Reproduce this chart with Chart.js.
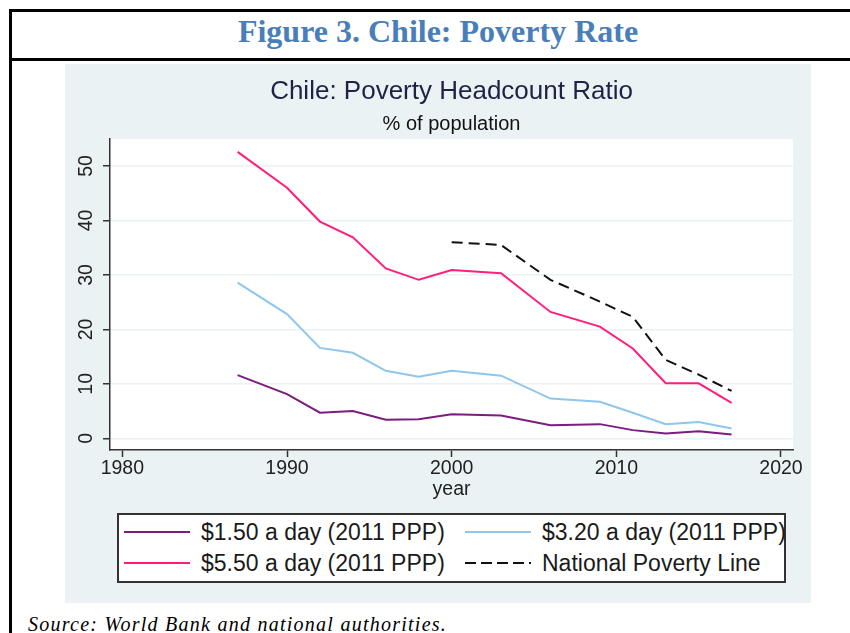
<!DOCTYPE html>
<html>
<head>
<meta charset="utf-8">
<script src="https://cdn.jsdelivr.net/npm/chart.js@4/dist/chart.umd.min.js"></script>
<style>
html,body{margin:0;padding:0;background:#fff;width:850px;height:633px;overflow:hidden;position:relative}
#frame{position:absolute;left:9px;top:9px;width:852px;height:640px;border-top:3px solid #000;border-left:3px solid #000}
#figbar{position:absolute;left:0;top:46px;width:852px;height:3px;background:#000}
#figtitle{position:absolute;left:0;top:1px;width:852px;text-align:center;font:bold 32px 'Liberation Serif','Times New Roman',serif;line-height:36px;color:#4a7ebb}
#wrap{position:absolute;left:65px;top:64px;width:746px;height:539px;background:#eaf2f3}
#legend{position:absolute;left:52px;top:449px;width:665px;height:66px;border:2px solid #333;background:#fff;overflow:visible}
.li{position:absolute;display:flex;align-items:center;height:30px;white-space:nowrap;font:23px 'Liberation Sans',Arial,sans-serif;color:#1a1a1a}
.sw{width:66px;height:2px;margin-right:11px}
#source{position:absolute;left:28px;top:612px;font:italic 20px 'Liberation Serif','Times New Roman',serif;line-height:24px;letter-spacing:1.25px;color:#000}
</style>
</head>
<body>
<div id="frame">
  <div id="figtitle">Figure 3. Chile: Poverty Rate</div>
  <div id="figbar"></div>
</div>
<div id="wrap">
  <canvas id="c" width="746" height="539"></canvas>
  <div id="legend"></div>
</div>
<div id="source">Source: World Bank and national authorities.</div>
<script>
// data
const years=[1987,1990,1992,1994,1996,1998,2000,2003,2006,2009,2011,2013,2015,2017];
const pov150=[11.6,8.1,4.7,5.0,3.4,3.5,4.4,4.2,2.4,2.6,1.5,0.9,1.3,0.7];
const pov320=[28.6,22.8,16.6,15.7,12.4,11.3,12.4,11.5,7.3,6.7,4.7,2.6,3.0,1.8];
const pov550=[52.6,46.0,39.8,36.9,31.2,29.1,30.9,30.3,23.2,20.5,16.5,10.1,10.1,6.5];
const povNat=[null,null,null,null,null,null,36.0,35.5,29.1,25.1,22.3,14.4,11.7,8.7];
const seriesLabels=['$1.50 a day (2011 PPP)','$3.20 a day (2011 PPP)','$5.50 a day (2011 PPP)','National Poverty Line'];
const seriesColors=['#7b1c7f','#8ec6ec','#ff1f7a','#111111'];
const xTicks=[1980,1990,2000,2010,2020];
const yTicks=[0,10,20,30,40,50];

const pts=v=>years.map((y,i)=>({x:y,y:v[i]}));
const ds=(i,v,dash)=>({label:seriesLabels[i],data:pts(v),borderColor:seriesColors[i],backgroundColor:seriesColors[i],borderWidth:2,borderDash:dash||[],pointRadius:0,tension:0,fill:false,spanGaps:false});

Chart.defaults.font.family="'Liberation Sans', Arial, sans-serif";
const plotBg={id:'plotBg',beforeDraw(ch){const a=ch.chartArea,c=ch.ctx;c.save();c.fillStyle='#fff';c.fillRect(a.left,a.top,a.right-a.left,a.bottom-a.top);c.restore();}};

const chart=new Chart(document.getElementById('c'),{
  type:'line',
  data:{datasets:[ds(0,pov150),ds(1,pov320),ds(2,pov550),ds(3,povNat,[11,6])]},
  options:{
    responsive:false,animation:false,devicePixelRatio:1,
    layout:{padding:{top:0,left:0,right:18,bottom:101.3}},
    plugins:{
      legend:{display:false},tooltip:{enabled:false},
      title:{display:true,fullSize:false,text:'Chile: Poverty Headcount Ratio',color:'#1e2346',font:{size:26,weight:'normal'},padding:{top:12.4,bottom:0}},
      subtitle:{display:true,fullSize:false,text:'% of population',color:'#111',font:{size:20},padding:{top:4.4,bottom:3}}
    },
    scales:{
      x:{type:'linear',min:1979.25,max:2020.73,
        afterBuildTicks:s=>{s.ticks=xTicks.map(v=>({value:v}));},
        afterFit:s=>{s.height=51.7;},
        grid:{drawOnChartArea:false,drawTicks:true,tickLength:7,tickColor:'#333',tickWidth:1.5},
        border:{color:'#333',width:1.5},
        ticks:{color:'#222',font:{size:19.5},padding:0,maxRotation:0,autoSkip:false,callback:v=>String(v)},
        title:{display:true,text:'year',color:'#222',font:{size:19.5},padding:{top:0,bottom:0}}
      },
      y:{type:'linear',min:-2.15,max:54.96,
        afterBuildTicks:s=>{s.ticks=yTicks.map(v=>({value:v}));},
        afterFit:s=>{s.width=45;},
        grid:{color:'#eaf2f3',lineWidth:1.5,drawTicks:true,tickLength:7,tickColor:'#333',tickWidth:1.5},
        border:{color:'#333',width:1.5},
        ticks:{color:'#222',font:{size:19.5},padding:6,minRotation:90,maxRotation:90,crossAlign:'center',autoSkip:false,callback:v=>String(v)}
      }
    }
  },
  plugins:[plotBg]
});

// legend box, 2 x 2, built from the datasets
const lg=document.getElementById('legend');
const spots=[[5,2],[346,2],[5,33],[346,33]];
chart.data.datasets.forEach((d,i)=>{
  const el=document.createElement('div');
  el.className='li';
  el.style.left=spots[i][0]+'px';el.style.top=spots[i][1]+'px';
  const sw=document.createElement('span');
  sw.className='sw';
  sw.style.background=d.borderDash.length
    ?'repeating-linear-gradient(90deg,'+d.borderColor+' 0 11px,transparent 11px 16px)'
    :d.borderColor;
  const tx=document.createElement('span');
  tx.textContent=d.label;
  el.appendChild(sw);el.appendChild(tx);
  lg.appendChild(el);
});
</script>
</body>
</html>
